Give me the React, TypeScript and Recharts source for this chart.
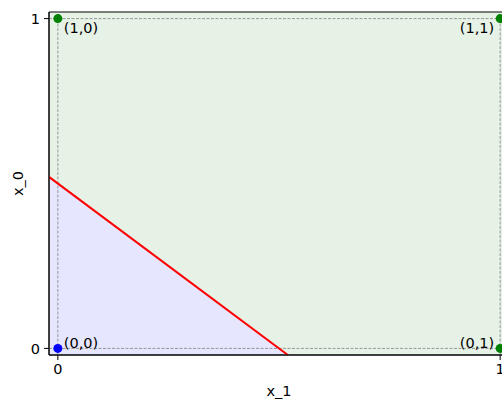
import React from 'react';
import { ComposedChart, XAxis, YAxis, Area, Line, Scatter, ReferenceArea, ReferenceLine, LabelList, Label } from 'recharts';

const FONT = 'DejaVu Sans';
const FS = 14.5;
const xDomain: [number, number] = [-0.02, 1.02];
const yDomain: [number, number] = [-0.02, 1.02];
const tickValues = [0, 1];

// decision boundary x_0 + x_1 = 0.5 (clipped to the view)
const boundaryX1 = [-0.02, 0.52];
const boundaryX0 = [0.52, -0.02];

// the four inputs
const pointX1 = [0, 1, 0, 1];
const pointX0 = [0, 0, 1, 1];
const pointLabel = ['(0,0)', '(0,1)', '(1,0)', '(1,1)'];
const pointClass = [0, 1, 1, 1];

const boundaryData = boundaryX1.map((x1, i) => ({ x1, x0: boundaryX0[i] }));
const points = pointX1.map((x1, i) => ({ x1, x0: pointX0[i], label: pointLabel[i], cls: pointClass[i] }));
const class0 = points.filter((p) => p.cls === 0);
const class1 = points.filter((p) => p.cls === 1);

const dot = (color: string) => (props: any) => (
  <circle cx={props.cx} cy={props.cy} r={4.5} fill={color} />
);

const makeLabel = (data: typeof points) => (props: any) => {
  const { x, y, width, height, index } = props;
  const p = data[index];
  const cx = x + (width || 0) / 2;
  const cy = y + (height || 0) / 2;
  const right = p.x1 >= 0.5;
  const top = p.x0 >= 0.5;
  return (
    <text
      x={right ? cx - 6 : cx + 6}
      y={top ? cy + 9 : cy - 5}
      textAnchor={right ? 'end' : 'start'}
      dominantBaseline="central"
      fontFamily={FONT}
      fontSize={FS}
      fill="#000"
    >
      {p.label}
    </text>
  );
};

export default function App() {
  return (
    <div style={{ position: 'fixed', left: 0, top: 0, width: 502, height: 399, overflow: 'hidden', background: '#fff' }}>
      <div style={{ position: 'absolute', left: 8, top: 8 }}>
        <ComposedChart width={520} height={391} margin={{ top: 4, right: 19, bottom: 0, left: 0 }} data={boundaryData}>
          <XAxis
            type="number"
            dataKey="x1"
            domain={xDomain}
            ticks={tickValues}
            allowDataOverflow
            height={44}
            tickSize={5}
            tickMargin={4}
            axisLine={{ stroke: '#000' }}
            tickLine={{ stroke: '#000' }}
            tick={{ fill: '#000', fontSize: FS, fontFamily: FONT }}
          >
            <Label
              content={(props: any) => {
                const vb = props.viewBox;
                return (
                  <text x={vb.x + vb.width / 2} y={vb.y + 36} textAnchor="middle" dominantBaseline="central" fontFamily={FONT} fontSize={FS} fill="#000">
                    x_1
                  </text>
                );
              }}
            />
          </XAxis>
          <YAxis
            type="number"
            dataKey="x0"
            domain={yDomain}
            ticks={tickValues}
            allowDataOverflow
            width={41}
            tickSize={5}
            tickMargin={4}
            axisLine={{ stroke: '#000' }}
            tickLine={{ stroke: '#000' }}
            tick={{ fill: '#000', fontSize: FS, fontFamily: FONT }}
          >
            <Label
              content={(props: any) => {
                const vb = props.viewBox;
                const cy = vb.y + vb.height / 2;
                return (
                  <text x={10} y={cy} transform={`rotate(-90, 10, ${cy})`} textAnchor="middle" dominantBaseline="central" fontFamily={FONT} fontSize={FS} fill="#000">
                    x_0
                  </text>
                );
              }}
            />
          </YAxis>
          <ReferenceArea x1={xDomain[0]} x2={xDomain[1]} y1={yDomain[0]} y2={yDomain[1]} fill="#e6f2e6" fillOpacity={1} stroke="none" />
          <Area
            type="linear"
            dataKey="x0"
            baseValue={yDomain[0]}
            stroke="none"
            fill="#e6e6ff"
            fillOpacity={1}
            isAnimationActive={false}
          />
          {tickValues.map((v) => (
            <ReferenceLine key={'vx' + v} x={v} stroke="#808080" strokeWidth={0.8} strokeDasharray="3 1.5" />
          ))}
          {tickValues.map((v) => (
            <ReferenceLine key={'hy' + v} y={v} stroke="#808080" strokeWidth={0.8} strokeDasharray="3 1.5" />
          ))}
          <Line type="linear" dataKey="x0" stroke="#ff0000" strokeWidth={2} dot={false} isAnimationActive={false} />
          <Scatter data={class0} dataKey="x0" shape={dot('#0000ff')} isAnimationActive={false}>
            <LabelList dataKey="label" content={makeLabel(class0)} />
          </Scatter>
          <Scatter data={class1} dataKey="x0" shape={dot('#008000')} isAnimationActive={false}>
            <LabelList dataKey="label" content={makeLabel(class1)} />
          </Scatter>
          <ReferenceArea x1={xDomain[0]} x2={xDomain[1]} y1={yDomain[0]} y2={yDomain[1]} fill="none" stroke="#000" strokeWidth={1} />
        </ComposedChart>
      </div>
    </div>
  );
}
